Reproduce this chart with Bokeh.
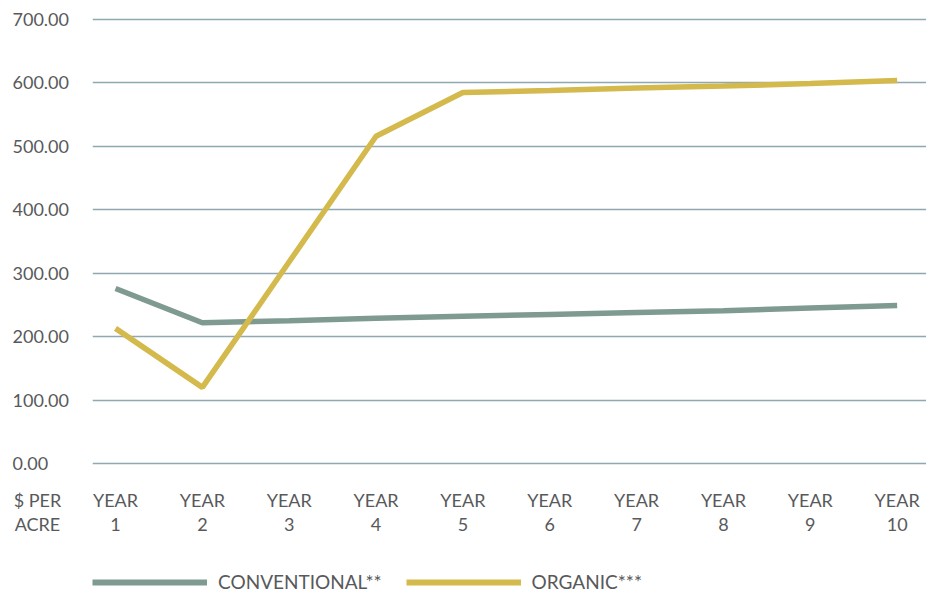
from bokeh.plotting import figure
from bokeh.models import FixedTicker, Range1d, Grid
from bokeh.core.properties import value
from bokeh.layouts import row, column
from bokeh.embed import file_html
from bokeh.resources import INLINE

# ---- data ----
years = [1, 2, 3, 4, 5, 6, 7, 8, 9, 10]
year_labels = ["YEAR\n1", "YEAR\n2", "YEAR\n3", "YEAR\n4", "YEAR\n5",
               "YEAR\n6", "YEAR\n7", "YEAR\n8", "YEAR\n9", "YEAR\n10"]
conventional = [276, 222, 225, 229, 232, 235, 238, 241, 245, 249]
organic = [213, 120, 318, 516, 585, 588, 592, 595, 599, 604]
y_ticks = [0, 100, 200, 300, 400, 500, 600, 700]
y_tick_labels = ["0.00", "100.00", "200.00", "300.00", "400.00", "500.00", "600.00", "700.00"]
unit_label = "$ PER\nACRE"
series_names = ["CONVENTIONAL**", "ORGANIC***"]

FONT = "Lato"
TXT = "#58595b"
C_CONV = "#7f9b91"
C_ORG = "#d4b94c"
GRID = "#8ea9b1"

# ---- layout geometry (pixels) ----
TOP_H = 540          # height of the chart row
LEFT_W = 92          # width of the label column
FRAME_TOP = 0
FRAME_BOTTOM = 472
ZERO_PX, TOP_PX = 463, 19          # pixel rows of the 0 and 700 gridlines
k = (ZERO_PX - TOP_PX) / (y_ticks[-1] - y_ticks[0])
Y0 = -(FRAME_BOTTOM - ZERO_PX) / k
Y1 = y_ticks[-1] + (TOP_PX - FRAME_TOP) / k


def style_xaxis(ax, ticks, overrides):
    ax.ticker = FixedTicker(ticks=ticks)
    ax.major_label_overrides = overrides
    ax.axis_line_color = None
    ax.major_tick_line_color = None
    ax.minor_tick_line_color = None
    ax.major_label_standoff = 10
    ax.major_label_text_font = FONT
    ax.major_label_text_font_size = "18px"
    ax.major_label_text_color = TXT
    ax.major_label_text_line_height = 1.11


# ---- main chart ----
p = figure(width=926 - LEFT_W, height=TOP_H, output_backend="svg", toolbar_location=None,
           x_range=Range1d(0.735, 10.338), y_range=Range1d(Y0, Y1),
           y_axis_location=None,
           min_border_left=0, min_border_right=0, min_border_top=FRAME_TOP,
           min_border_bottom=TOP_H - FRAME_BOTTOM)
p.outline_line_color = None
p.background_fill_color = "white"
p.border_fill_color = "white"
p.xgrid.visible = False
if len(p.ygrid) == 0:
    p.add_layout(Grid(dimension=1))
p.ygrid.ticker = FixedTicker(ticks=y_ticks)
p.ygrid.grid_line_color = GRID
p.ygrid.grid_line_width = 1.5
style_xaxis(p.xaxis[0], years, {y: l for y, l in zip(years, year_labels)})

p.line(years, conventional, line_width=5.5, line_color=C_CONV)
p.line(years, organic, line_width=5.5, line_color=C_ORG)

# ---- left label column (shares the chart's vertical scale) ----
UNIT_X = 37
pl = figure(width=LEFT_W, height=TOP_H, output_backend="svg", toolbar_location=None,
            x_range=Range1d(0, LEFT_W), y_range=p.y_range,
            y_axis_location=None,
            min_border_left=0, min_border_right=0, min_border_top=FRAME_TOP,
            min_border_bottom=TOP_H - FRAME_BOTTOM)
pl.outline_line_color = None
pl.xgrid.visible = False
pl.ygrid.visible = False
pl.text(x=[12] * len(y_ticks), y=y_ticks, text=y_tick_labels,
        text_font=value(FONT), text_font_size="18px", text_color=TXT,
        text_align="left", text_baseline="alphabetic")
style_xaxis(pl.xaxis[0], [UNIT_X], {UNIT_X: unit_label})
pl.xaxis[0].major_label_text_align = "left"

# ---- legend strip ----
LEG_H = 593 - TOP_H
pg = figure(width=926, height=LEG_H, output_backend="svg", toolbar_location=None,
            x_range=Range1d(-1, 0), y_range=Range1d(-1, 0),
            x_axis_location=None, y_axis_location=None,
            min_border_left=0, min_border_right=0, min_border_top=0, min_border_bottom=0)
pg.outline_line_color = None
pg.xgrid.visible = False
pg.ygrid.visible = False
pg.line(years, conventional, line_width=6, line_color=C_CONV, legend_label=series_names[0])
pg.line(years, organic, line_width=6, line_color=C_ORG, legend_label=series_names[1])
lg = pg.legend[0]
lg.location = (LEFT_W, 0)
lg.orientation = "horizontal"
lg.glyph_width = 115
lg.glyph_height = 20
lg.label_standoff = 11
lg.spacing = 24
lg.padding = 0
lg.margin = 0
lg.label_text_font = FONT
lg.label_text_font_size = "19px"
lg.label_text_color = TXT
lg.border_line_color = None
lg.background_fill_alpha = 0

layout = column(row(pl, p, spacing=0), pg, spacing=0)
open("out.html", "w").write(file_html(layout, INLINE))
